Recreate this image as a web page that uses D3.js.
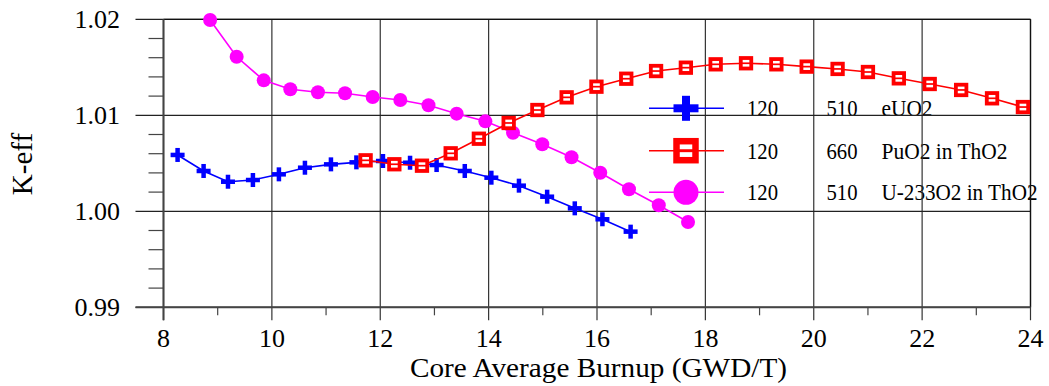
<!DOCTYPE html>
<html><head><meta charset="utf-8">
<script src="https://cdn.jsdelivr.net/npm/d3@7"></script>
<style>body{margin:0;background:#fff}svg{display:block}</style>
</head><body><svg id="c" width="1049" height="386" font-family="'Liberation Serif', 'Times New Roman', serif"></svg>
<script>
const xTicks = [8,10,12,14,16,18,20,22,24];
const xMinor = [9,11,13,15,17,19,21,23];
const yTicks = [0.99,1.00,1.01,1.02];
const yTickLabels = ["0.99","1.00","1.01","1.02"];
const yMinor = [0.992,0.994,0.996,0.998,1.002,1.004,1.006,1.008,1.012,1.014,1.016,1.018];

const eUO2X = [8.26,8.74,9.19,9.65,10.13,10.61,11.09,11.56,12.05,12.55,13.04,13.56,14.05,14.56,15.08,15.59,16.10,16.62];
const eUO2Y = [1.00587,1.0042,1.00308,1.00326,1.00385,1.00454,1.00489,1.0051,1.00524,1.00506,1.00482,1.0042,1.0035,1.00267,1.00152,1.00031,0.99917,0.99788];
const u233X = [8.86,9.35,9.85,10.34,10.85,11.35,11.86,12.37,12.89,13.41,13.94,14.45,14.99,15.53,16.06,16.59,17.14,17.68];
const u233Y = [1.01993,1.0161,1.01364,1.01271,1.0124,1.01229,1.01191,1.01159,1.01104,1.01017,1.00937,1.00819,1.00698,1.00563,1.00402,1.00229,1.00063,0.99889];
const puX = [11.73,12.26,12.77,13.30,13.82,14.37,14.90,15.44,15.99,16.54,17.09,17.64,18.19,18.75,19.31,19.87,20.44,21.00,21.57,22.14,22.72,23.29,23.86];
const puY = [1.00531,1.0049,1.00475,1.00604,1.00756,1.0092,1.01055,1.01187,1.01298,1.01381,1.01461,1.01496,1.01531,1.01542,1.01531,1.01507,1.01483,1.01451,1.01385,1.01326,1.01264,1.01177,1.01086];

const legendCol1 = ["120","120","120"];
const legendCol2 = ["510","660","510"];
const legendNames = ["eUO2","PuO2 in ThO2","U-233O2 in ThO2"];
const xTitle = "Core Average Burnup (GWD/T)";
const yTitle = "K-eff";

const FONT = "'Liberation Serif','Times New Roman',serif";
const svg = d3.select("#c");
const L=163.5, R=1030.5, T=19.3, B=307.3;
const x = d3.scaleLinear().domain([8,24]).range([L,R]);
const y = d3.scaleLinear().domain([0.99,1.02]).range([B,T]);

function txt(sel){ return sel.append("text").attr("font-family",FONT).attr("fill","#000"); }

// legend texts (under gridlines)
const lg = svg.append("g");
const rowY = [108.3,150.7,192.3];
const nameW=[51,126,156];
legendCol1.forEach((t,i)=>{
  txt(lg).attr("x",747).attr("y",rowY[i]+8).attr("font-size",24).attr("textLength",31).attr("lengthAdjust","spacingAndGlyphs").text(t);
  txt(lg).attr("x",826.5).attr("y",rowY[i]+8).attr("font-size",24).attr("textLength",31).attr("lengthAdjust","spacingAndGlyphs").text(legendCol2[i]);
  txt(lg).attr("x",881.5).attr("y",rowY[i]+8).attr("font-size",24).attr("textLength",nameW[i]).attr("lengthAdjust","spacingAndGlyphs").text(legendNames[i]);
});

// grid
const g = svg.append("g");
g.selectAll(".vg").data(xTicks).join("line").attr("x1",d=>x(d)).attr("x2",d=>x(d)).attr("y1",T).attr("y2",B+13).attr("stroke","#333").attr("stroke-width",1.2);
g.selectAll(".hg").data(yTicks).join("line").attr("x1",L-28).attr("x2",R).attr("y1",d=>y(d)).attr("y2",d=>y(d)).attr("stroke","#222").attr("stroke-width",1.2);
g.selectAll(".xm").data(xMinor).join("line").attr("x1",d=>x(d)).attr("x2",d=>x(d)).attr("y1",B).attr("y2",B+8).attr("stroke","#444").attr("stroke-width",1.2);
g.selectAll(".ym").data(yMinor).join("line").attr("x1",L-15).attr("x2",L).attr("y1",d=>y(d)).attr("y2",d=>y(d)).attr("stroke","#444").attr("stroke-width",1.2);
// frame
g.append("line").attr("x1",R).attr("x2",R).attr("y1",T).attr("y2",B).attr("stroke","#111").attr("stroke-width",1.3);
g.append("line").attr("x1",L).attr("x2",R).attr("y1",T).attr("y2",T).attr("stroke","#111").attr("stroke-width",1.3);
g.append("line").attr("x1",L).attr("x2",L).attr("y1",T).attr("y2",B+13).attr("stroke","#444").attr("stroke-width",2);
g.append("line").attr("x1",L-28).attr("x2",R).attr("y1",B).attr("y2",B).attr("stroke","#444").attr("stroke-width",2);

// tick labels
xTicks.forEach(d=>txt(svg).attr("x",x(d)).attr("y",347).attr("text-anchor","middle").attr("font-size",26).text(d));
yTicks.forEach((d,i)=>txt(svg).attr("x",120).attr("y",y(d)+9).attr("text-anchor","end").attr("font-size",26).text(yTickLabels[i]));
txt(svg).attr("x",598.5).attr("y",377).attr("text-anchor","middle").attr("font-size",28).attr("textLength",377).attr("lengthAdjust","spacingAndGlyphs").text(xTitle);
txt(svg).attr("transform","translate(32,164) rotate(-90)").attr("text-anchor","middle").attr("font-size",29).text(yTitle);

// markers
function cross(sel,cx,cy,s,t,col){
  sel.append("rect").attr("x",cx-s/2).attr("y",cy-t/2).attr("width",s).attr("height",t).attr("fill",col);
  sel.append("rect").attr("x",cx-t/2).attr("y",cy-s/2).attr("width",t).attr("height",s).attr("fill",col);
}
function square(sel,cx,cy,s,sw,col){
  sel.append("rect").attr("x",cx-s/2).attr("y",cy-s/2).attr("width",s).attr("height",s).attr("fill","#fff").attr("stroke",col).attr("stroke-width",sw);
  sel.append("line").attr("x1",cx-s/2).attr("x2",cx+s/2).attr("y1",cy).attr("y2",cy).attr("stroke",col).attr("stroke-width",sw*0.45);
}
const line = d3.line().x(d=>x(d[0])).y(d=>y(d[1]));
const BLUE="#0000ff", RED="#ff0000", MAG="#ff00ff";

const gb = svg.append("g");
const eData = eUO2X.map((v,i)=>[v,eUO2Y[i]]);
gb.append("path").attr("d",line(eData)).attr("fill","none").attr("stroke",BLUE).attr("stroke-width",1.6);
eData.forEach(d=>cross(gb,x(d[0]),y(d[1]),14,4.5,BLUE));

const gm = svg.append("g");
const uData = u233X.map((v,i)=>[v,u233Y[i]]);
gm.append("path").attr("d",line(uData)).attr("fill","none").attr("stroke",MAG).attr("stroke-width",1.6);
gm.selectAll("circle").data(uData).join("circle").attr("cx",d=>x(d[0])).attr("cy",d=>y(d[1])).attr("r",7).attr("fill",MAG);

const gr = svg.append("g");
const pData = puX.map((v,i)=>[v,puY[i]]);
gr.append("path").attr("d",line(pData)).attr("fill","none").attr("stroke",RED).attr("stroke-width",1.6);
pData.forEach(d=>square(gr,x(d[0]),y(d[1]),10.5,3.8,RED));

// legend symbols
const cols=[BLUE,RED,MAG];
const gl = svg.append("g");
rowY.forEach((ry,i)=>{
  gl.append("line").attr("x1",649).attr("x2",724).attr("y1",ry).attr("y2",ry).attr("stroke",cols[i]).attr("stroke-width",1.6);
});
cross(gl,686,rowY[0],25,8,BLUE);
square(gl,686,rowY[1],19,6.5,RED);
gl.append("circle").attr("cx",686).attr("cy",rowY[2]).attr("r",12.5).attr("fill",MAG);
</script></body></html>
